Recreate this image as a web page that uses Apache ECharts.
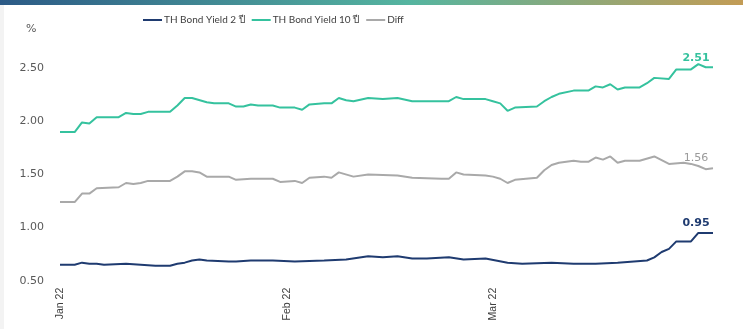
<!DOCTYPE html>
<html>
<head>
<meta charset="utf-8">
<script src="https://cdn.jsdelivr.net/npm/echarts@6/dist/echarts.min.js"></script>
<style>
  html, body { margin: 0; padding: 0; background: #fff; }
  #chart { width: 743px; height: 329px; }
</style>
</head>
<body>
<div id="chart"></div>
<script>
// series names
const names = ["TH Bond Yield 2 ปี", "TH Bond Yield 10 ปี", "Diff"];

// 10Y yield
const dates10 = ["2022-01-01","2022-01-03","2022-01-04","2022-01-05","2022-01-06","2022-01-09","2022-01-10","2022-01-11","2022-01-12","2022-01-13","2022-01-16","2022-01-17","2022-01-18","2022-01-19","2022-01-21","2022-01-22","2022-01-24","2022-01-25","2022-01-26","2022-01-27","2022-01-28","2022-01-30","2022-01-31","2022-02-02","2022-02-03","2022-02-04","2022-02-06","2022-02-07","2022-02-08","2022-02-09","2022-02-10","2022-02-12","2022-02-14","2022-02-16","2022-02-18","2022-02-22","2022-02-23","2022-02-24","2022-02-25","2022-02-28","2022-03-01","2022-03-02","2022-03-03","2022-03-04","2022-03-07","2022-03-08","2022-03-09","2022-03-10","2022-03-12","2022-03-13","2022-03-14","2022-03-15","2022-03-16","2022-03-17","2022-03-18","2022-03-19","2022-03-21","2022-03-22","2022-03-23","2022-03-25","2022-03-26","2022-03-28","2022-03-29","2022-03-30","2022-03-31"];
const yield10 = [1.90,1.90,1.99,1.98,2.04,2.04,2.08,2.07,2.07,2.09,2.09,2.15,2.22,2.22,2.18,2.17,2.17,2.14,2.14,2.16,2.15,2.15,2.13,2.13,2.11,2.16,2.17,2.17,2.22,2.20,2.19,2.22,2.21,2.22,2.19,2.19,2.19,2.23,2.21,2.21,2.19,2.17,2.10,2.13,2.14,2.19,2.23,2.26,2.29,2.29,2.29,2.33,2.32,2.35,2.30,2.32,2.32,2.36,2.41,2.40,2.49,2.49,2.54,2.51,2.51];

// 2Y yield
const dates2 = ["2022-01-01","2022-01-03","2022-01-04","2022-01-05","2022-01-06","2022-01-07","2022-01-10","2022-01-12","2022-01-14","2022-01-16","2022-01-17","2022-01-18","2022-01-19","2022-01-20","2022-01-21","2022-01-24","2022-01-25","2022-01-27","2022-01-30","2022-02-02","2022-02-06","2022-02-09","2022-02-12","2022-02-14","2022-02-16","2022-02-18","2022-02-20","2022-02-23","2022-02-25","2022-02-28","2022-03-03","2022-03-05","2022-03-09","2022-03-12","2022-03-15","2022-03-18","2022-03-22","2022-03-23","2022-03-24","2022-03-25","2022-03-26","2022-03-28","2022-03-29","2022-03-31"];
const yield2 = [0.65,0.65,0.67,0.66,0.66,0.65,0.66,0.65,0.64,0.64,0.66,0.67,0.69,0.70,0.69,0.68,0.68,0.69,0.69,0.68,0.69,0.70,0.73,0.72,0.73,0.71,0.71,0.72,0.70,0.71,0.67,0.66,0.67,0.66,0.66,0.67,0.69,0.72,0.77,0.80,0.87,0.87,0.95,0.95];

// spread
const datesDiff = ["2022-01-01","2022-01-03","2022-01-04","2022-01-05","2022-01-06","2022-01-09","2022-01-10","2022-01-11","2022-01-12","2022-01-13","2022-01-16","2022-01-17","2022-01-18","2022-01-19","2022-01-20","2022-01-21","2022-01-24","2022-01-25","2022-01-27","2022-01-30","2022-01-31","2022-02-02","2022-02-03","2022-02-04","2022-02-06","2022-02-07","2022-02-08","2022-02-10","2022-02-12","2022-02-16","2022-02-18","2022-02-22","2022-02-23","2022-02-24","2022-02-25","2022-02-28","2022-03-01","2022-03-02","2022-03-03","2022-03-04","2022-03-07","2022-03-08","2022-03-09","2022-03-10","2022-03-12","2022-03-13","2022-03-14","2022-03-15","2022-03-16","2022-03-17","2022-03-18","2022-03-19","2022-03-21","2022-03-23","2022-03-25","2022-03-27","2022-03-28","2022-03-29","2022-03-30","2022-03-31"];
const diff = [1.24,1.24,1.32,1.32,1.37,1.38,1.42,1.41,1.42,1.44,1.44,1.48,1.53,1.53,1.52,1.48,1.48,1.45,1.46,1.46,1.43,1.44,1.42,1.47,1.48,1.47,1.52,1.48,1.50,1.49,1.47,1.46,1.46,1.52,1.50,1.49,1.48,1.46,1.42,1.45,1.47,1.54,1.59,1.61,1.63,1.62,1.62,1.66,1.64,1.67,1.61,1.63,1.63,1.67,1.60,1.61,1.60,1.58,1.55,1.56];

// x tick labels
const tickDates = ["2022-01-01", "2022-02-01", "2022-03-01"];
const tickLabels = ["Jan 22", "Feb 22", "Mar 22"];
const xStart = "2022-01-01";
const xEnd = "2022-03-31";

const colors = ["#1f3b70", "#35c29e", "#a9a9a9"];

function toTime(s) {
  const p = s.split("-");
  return Date.UTC(+p[0], +p[1] - 1, +p[2]);
}

// pair dates with values, label only the last point
function build(ds, vs, labelStyle) {
  return ds.map((d, i) => {
    const item = {value: [toTime(d), vs[i]]};
    if (i === ds.length - 1) {
      item.label = Object.assign({
        show: true,
        position: "top",
        distance: 4,
        offset: [-17, 0],
        fontFamily: "DejaVu Sans",
        fontSize: 11,
        formatter: (p) => p.value[1].toFixed(2)
      }, labelStyle);
    }
    return item;
  });
}

const tickTimes = tickDates.map(toTime);

const lineSeries = (i, ds, vs, labelStyle) => ({
  name: names[i],
  type: "line",
  symbol: "circle",
  symbolSize: 0,
  showAllSymbol: true,
  color: colors[i],
  lineStyle: {width: 2},
  emphasis: {disabled: true},
  data: build(ds, vs, labelStyle)
});

const chart = echarts.init(document.getElementById("chart"));
chart.setOption({
  animation: false,
  title: {
    text: "%",
    left: 21,
    top: 19,
    textStyle: {fontFamily: "DejaVu Sans", fontSize: 11, fontWeight: "normal", color: "#595959"}
  },
  legend: {
    left: 138,
    top: 10,
    itemWidth: 19,
    itemHeight: 2,
    itemGap: 7,
    icon: "rect",
    data: [names[0], names[1], names[2]],
    textStyle: {fontFamily: "Lato", fontSize: 10, color: "#404040", padding: [0, 0, 0, -3]}
  },
  grid: {left: 60, right: 30, top: 57.7, bottom: 48.3},
  xAxis: {
    type: "value",
    min: toTime(xStart),
    max: toTime(xEnd),
    axisLine: {show: false},
    axisTick: {show: false},
    splitLine: {show: false},
    axisLabel: {
      customValues: tickTimes,
      rotate: 90,
      margin: 7,
      fontFamily: "Liberation Sans",
      fontSize: 10.5,
      color: "#404040",
      formatter: (v) => {
        const i = tickTimes.indexOf(v);
        return i >= 0 ? tickLabels[i] : "";
      }
    }
  },
  yAxis: {
    type: "value",
    min: 0.5,
    max: 2.6,
    interval: 0.5,
    axisLine: {show: false},
    axisTick: {show: false},
    splitLine: {show: false},
    axisLabel: {
      showMaxLabel: false,
      margin: 16,
      fontFamily: "DejaVu Sans",
      fontSize: 11,
      color: "#595959",
      formatter: (v) => v.toFixed(2)
    }
  },
  series: [
    lineSeries(0, dates2, yield2, {color: colors[0], fontWeight: "bold"}),
    lineSeries(1, dates10, yield10, {color: colors[1], fontWeight: "bold"}),
    lineSeries(2, datesDiff, diff, {color: "#9a9a9a"})
  ],
  graphic: [
    {
      type: "rect",
      left: 0, top: 0,
      shape: {width: 743, height: 5},
      style: {
        fill: new echarts.graphic.LinearGradient(0, 0, 1, 0, [
          {offset: 0, color: "#2c5a86"},
          {offset: 0.55, color: "#55b5a0"},
          {offset: 1, color: "#c39c55"}
        ])
      }
    },
    {
      type: "rect",
      left: 0, top: 5,
      shape: {width: 4, height: 324},
      style: {fill: "#f3f3f3"}
    }
  ]
});
</script>
</body>
</html>
